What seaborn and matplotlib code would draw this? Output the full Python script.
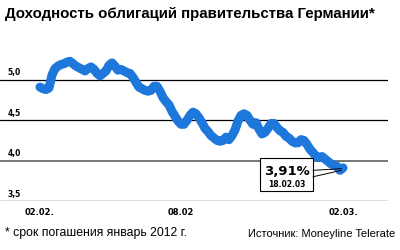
import matplotlib
matplotlib.use("Agg")
import matplotlib.pyplot as plt
import seaborn as sns
import pandas as pd
import numpy as np

title = "Доходность облигаций правительства Германии*"
footnote = "* срок погашения январь 2012 г."
source = "Источник: Moneyline Telerate"

yields = [4.91, 4.89, 4.88, 4.90, 5.06, 5.14, 5.17, 5.19, 5.20, 5.22, 5.23, 5.20, 5.17, 5.15,
          5.13, 5.11, 5.14, 5.16, 5.13, 5.08, 5.05, 5.08, 5.11, 5.18, 5.21, 5.17, 5.12, 5.13,
          5.11, 5.09, 5.08, 5.03, 4.97, 4.91, 4.89, 4.87, 4.86, 4.87, 4.92, 4.92, 4.86, 4.78,
          4.73, 4.69, 4.61, 4.55, 4.49, 4.45, 4.45, 4.50, 4.56, 4.60, 4.58, 4.53, 4.47, 4.40,
          4.36, 4.31, 4.28, 4.25, 4.24, 4.25, 4.29, 4.26, 4.31, 4.38, 4.49, 4.56, 4.58, 4.56,
          4.50, 4.45, 4.47, 4.39, 4.33, 4.35, 4.40, 4.46, 4.46, 4.41, 4.37, 4.35, 4.30, 4.28,
          4.24, 4.22, 4.22, 4.26, 4.25, 4.20, 4.14, 4.10, 4.05, 4.04, 4.05, 4.02, 3.99, 3.96,
          3.94, 3.93, 3.88, 3.91]
x_tick_pos = [0, 47, 101]
x_tick_labels = ["02.02.", "08.02", "02.03."]
y_ticks = [3.5, 4.0, 4.5, 5.0]
y_tick_labels = ["3,5", "4,0", "4,5", "5,0"]
last_label = "3,91%"
last_date = "18.02.03"

df = pd.DataFrame({"x": np.arange(len(yields)), "y": yields})

sns.set_style("white")
plt.rcParams['font.family'] = ['Liberation Sans', 'DejaVu Sans']

fig = plt.figure(figsize=(4, 2.5), dpi=100)
ax = fig.add_axes([0.0, 49/250, 0.97, (201-51.6)/250])

for v in y_ticks:
    col = "#777777" if v == 4.0 else "black"
    lw = 1.4 if v == 4.0 else 0.9
    ax.axhline(v, color=col, lw=lw, zorder=1)

sns.lineplot(data=df, x="x", y="y", ax=ax, color="#1e78dc", lw=6.5,
             solid_capstyle="round", solid_joinstyle="round", zorder=3)

ax.set_xlim(-13.33, 116)
ax.set_ylim(3.5, 5.35)
for s in ax.spines.values():
    s.set_visible(False)
ax.set_xlabel("")
ax.set_ylabel("")
ax.set_yticks([])
ax.set_xticks(x_tick_pos)
ax.set_xticklabels(x_tick_labels, fontsize=6, fontweight="bold", color="black",
                   family=["DejaVu Sans"])
ax.tick_params(axis="x", length=0, pad=5)

for v, lab in zip(y_ticks, y_tick_labels):
    ax.text(0.02, v + 0.03, lab, transform=ax.get_yaxis_transform(), fontsize=5.5,
            fontweight="bold", ha="left", va="bottom", color="black",
            family=["DejaVu Sans"])

# annotation box
last_x = len(yields) - 1
last_y = yields[-1]
bx0, bx1 = 73.3, 91.0
by_top, by_bot = 4.03, 3.62
ax.fill([bx0, bx1, bx1, bx0], [by_bot, by_bot, by_top, by_top], facecolor="white",
        edgecolor="black", lw=0.8, zorder=4)
ax.plot([bx1, last_x - 0.5], [3.88, last_y - 0.01], color="black", lw=0.7, zorder=4)
ax.plot([bx1, last_x - 0.5], [3.80, last_y - 0.03], color="black", lw=0.7, zorder=4)
ax.text((bx0 + bx1) / 2, 3.86, last_label, fontsize=9.5, fontweight="bold", ha="center",
        va="center", zorder=5, color="black", family=["DejaVu Sans"])
ax.text((bx0 + bx1) / 2, 3.71, last_date, fontsize=5.5, fontweight="bold", ha="center",
        va="center", zorder=5, color="black", family=["DejaVu Sans"])

fig.text(0.0125, 1 - 14/250, title, fontsize=10.8, fontweight="bold", ha="left",
         va="center", color="black", family=["Liberation Sans", "DejaVu Sans"])
fig.text(0.0125, 1 - 233/250, footnote, fontsize=8.8, ha="left", va="center", color="black")
fig.text(0.988, 1 - 234/250, source, fontsize=8, ha="right", va="center", color="black")

fig.savefig("out.png", dpi=100)
